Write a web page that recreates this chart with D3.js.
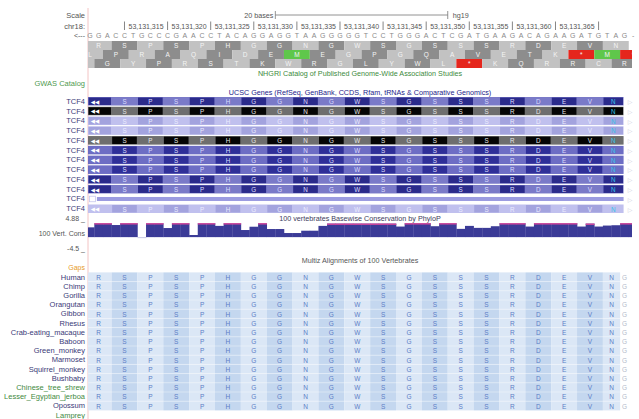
<!DOCTYPE html>
<html>
<head>
<meta charset="utf-8">
<script src="https://cdn.jsdelivr.net/npm/d3@7"></script>
<style>
  body { margin: 0; background: #fff; }
  svg { display: block; font-family: "Liberation Sans", Arial, sans-serif; }
</style>
</head>
<body>
<div id="chart"></div>
<script>
// ---- data ----
const chromName = "chr18";
const assembly = "hg19";
const dna = "GGACCTGCCCGAACCTACAGGAGGTAAGGGGGTCCTGGGACTCGATGAAGACAGAAGATGTAG-";
const rulerPositions = [53131315, 53131320, 53131325, 53131330, 53131335, 53131340,
                        53131345, 53131350, 53131355, 53131360, 53131365];
const firstRulerBase = 4;          // index of the base under the first ruler tick
const scaleBarBases = 20;

// three-frame translation, codon k starts at base 3k + frameStart
const frameA = ["R","S","P","S","P","H","G","G","N","G","W","S","G","S","S","S","R","D","E","V","N"];
const frameB = ["L","P","R","A","Q","I","D","E","M","E","G","P","G","Q","A","V","E","T","K","*","M","*"];
const frameC = ["E","G","Y","P","R","S","T","K","W","R","G","L","Y","W","L","*","K","Q","R","R","C","R"];
const frameStarts = [0, -1, -2];

// UCSC Genes track: 12 TCF4 transcripts
const geneNames = ["TCF4","TCF4","TCF4","TCF4","TCF4","TCF4","TCF4","TCF4","TCF4","TCF4","TCF4","TCF4"];
const geneStatus = ["reviewed","canonical","validated","validated","canonical","provisional",
                    "provisional","provisional","reviewed","reviewed","noncoding","validated"];
const genePhase = [0, 0, 0, 0, 1, 1, 1, 1, 0, 0, 0, 1];
const geneAA = frameA;
const lastCodingBase = 62.4;

// 100 vertebrates basewise conservation (phyloP), one value per base
const phyloP = [2.96, 4.2, 4.2, 3.66, 4.2, 4.2, -0.3, 4.2, 4.2, 2.75,
                4.2, 4.2, 0.64, 4.2, 4.2, 3.4, 4.2, 4.2, 2.15, 3.15,
                4.2, 2.45, 2.45, 1.24, 1.24, 1.94, 1.94, 3.4, 4.1, 4.1,
                4.1, 4.1, 4.1, 4.1, 4.1, 4.1, 3.2, 4.2, 4.2, 4.2,
                3.3, 4.2, 4.2, 2.5, 3.4, 2.8, 2.8, 3.3, 4.2, 4.2,
                4.2, 3.2, 4.2, 4.2, 4.2, 4.2, 4.2, 3.2, 4.1, 3.2,
                3.5, 3.6, 4.2, 4.2];
const consRange = [-4.5, 4.88];

// Multiz alignment species
const species = ["Human","Chimp","Gorilla","Orangutan","Gibbon","Rhesus","Crab-eating_macaque",
                 "Baboon","Green_monkey","Marmoset","Squirrel_monkey","Bushbaby",
                 "Chinese_tree_shrew","Lesser_Egyptian_jerboa","Opossum","Lamprey"];
const speciesClade = ["primate","primate","primate","primate","primate","primate","primate",
                      "primate","primate","primate","primate","primate",
                      "euarchontoglires","euarchontoglires","mammal","vertebrate"];
const speciesAligned = [1,1,1,1,1,1,1,1,1,1,1,1,1,1,1,0];
const trailingBase = "G";

// ---- layout ----
const W = 639, H = 419;
const left = 88, right = 632;

const svg = d3.select("#chart").append("svg")
  .attr("width", W).attr("height", H);

const defs = svg.append("defs");
defs.append("clipPath").attr("id", "data-clip")
  .append("rect").attr("x", left).attr("y", 0).attr("width", right - left).attr("height", H);

const x = d3.scaleLinear().domain([0, dna.length]).range([85.7, 85.7 + dna.length * 8.62]);

const labelX = 85;
const labelColor = "#3a3a6e";

function sideLabel(y, text, color, size) {
  svg.append("text")
    .attr("x", labelX).attr("y", y)
    .attr("text-anchor", "end").attr("dominant-baseline", "central")
    .attr("font-size", size || 7.5).attr("fill", color || labelColor)
    .text(text);
}

function centerTitle(y, text, color, underline) {
  svg.append("text")
    .attr("x", (left + right) / 2).attr("y", y)
    .attr("text-anchor", "middle").attr("dominant-baseline", "central")
    .attr("font-size", 7.2).attr("fill", color)
    .attr("text-decoration", underline ? "underline" : null)
    .text(text);
}

// pink guide line at left edge of the data area
svg.append("line")
  .attr("x1", left).attr("x2", left).attr("y1", 8).attr("y2", H)
  .attr("stroke", "#f3c4c4").attr("stroke-width", 1);

// ---- scale bar ----
sideLabel(15, "Scale", "#555");
const mid = dna.length / 2;
const sb0 = x(mid - scaleBarBases / 2), sb1 = x(mid + scaleBarBases / 2);
const sb = svg.append("g").attr("stroke", "#777").attr("stroke-width", 0.8);
sb.append("line").attr("x1", sb0).attr("x2", sb1).attr("y1", 15).attr("y2", 15);
sb.append("line").attr("x1", sb0).attr("x2", sb0).attr("y1", 11).attr("y2", 19);
sb.append("line").attr("x1", sb1).attr("x2", sb1).attr("y1", 11).attr("y2", 19);
svg.append("text").attr("x", sb0 - 2).attr("y", 15).attr("text-anchor", "end")
  .attr("dominant-baseline", "central").attr("font-size", 7.2).attr("fill", "#555")
  .text(scaleBarBases + " bases");
svg.append("text").attr("x", sb1 + 5).attr("y", 15)
  .attr("dominant-baseline", "central").attr("font-size", 7.2).attr("fill", "#555")
  .text(assembly);

// ---- ruler ----
sideLabel(26, chromName + ":", "#555");
const fmt = d3.format(",");
const ruler = svg.append("g");
const tickBases = rulerPositions.map((p, i) => firstRulerBase + i * 5).concat([firstRulerBase + rulerPositions.length * 5]);
ruler.selectAll("line").data(tickBases).join("line")
  .attr("x1", d => x(d + 0.5)).attr("x2", d => x(d + 0.5))
  .attr("y1", 21.5).attr("y2", 30)
  .attr("stroke", "#666").attr("stroke-width", 0.8);
ruler.selectAll("text").data(rulerPositions).join("text")
  .attr("x", (d, i) => x(firstRulerBase + i * 5 + 3))
  .attr("y", 26).attr("text-anchor", "middle").attr("dominant-baseline", "central")
  .attr("font-size", 7).attr("fill", "#555")
  .text(d => fmt(d));

// ---- bases ----
sideLabel(35, "<---", "#555", 7);
svg.append("g").selectAll("text").data(dna.split("")).join("text")
  .attr("x", (d, i) => x(i + 0.5)).attr("y", 35)
  .attr("text-anchor", "middle").attr("dominant-baseline", "central")
  .attr("font-size", 7).attr("fill", "#8a8a8a")
  .text(d => d);

// ---- three-frame translation ----
const frameY = d3.scaleBand().domain([0, 1, 2]).range([41, 68]);
const frames = [frameA, frameB, frameC];
const frameParity = [0, 1, 1];
const trans = svg.append("g").attr("clip-path", "url(#data-clip)");
frames.forEach((aa, f) => {
  const k0 = f === 0 ? 0 : -1;
  const cells = aa.map((a, i) => ({ a, k: k0 + i, s: 3 * (k0 + i) + frameStarts[f] + (f === 0 ? 0 : 3) }));
  const g = trans.append("g");
  g.selectAll("rect").data(cells).join("rect")
    .attr("x", d => x(d.s)).attr("width", d => x(d.s + 3) - x(d.s))
    .attr("y", frameY(f)).attr("height", frameY.bandwidth())
    .attr("fill", d => d.a === "M" ? "#5fc74b" : d.a === "*" ? "#e5261d"
      : (Math.abs(d.k) % 2 === frameParity[f] ? "#c2c2c2" : "#8d8d8d"));
  g.selectAll("text").data(cells).join("text")
    .attr("x", d => x(d.s + 1.5)).attr("y", frameY(f) + frameY.bandwidth() / 2 + 0.3)
    .attr("text-anchor", "middle").attr("dominant-baseline", "central")
    .attr("font-size", 6.5).attr("fill", "#f4f4f4")
    .text(d => d.a);
});

// ---- GWAS ----
centerTitle(73.5, "NHGRI Catalog of Published Genome-Wide Association Studies", "#3d8a3d");
sideLabel(83, "GWAS Catalog", "#4f9a4f");

// ---- UCSC genes ----
centerTitle(92.5, "UCSC Genes (RefSeq, GenBank, CCDS, Rfam, tRNAs & Comparative Genomics)", "#23238a", true);

const geneColors = {
  reviewed:    { dark: "#2b2b8b", light: "#7a7ac8", text: "#dcdcff" },
  canonical:   { dark: "#050505", light: "#6e6e6e", text: "#e6e6e6" },
  validated:   { dark: "#a3a3de", light: "#c0c0ee", text: "#ececff" },
  provisional: { dark: "#2f2f98", light: "#6d6dc4", text: "#dcdcff" },
  noncoding:   { dark: "#9b9be0", light: "#9b9be0", text: "#ececff" }
};
const geneY = d3.scaleBand().domain(d3.range(geneNames.length)).range([97, 213]).paddingInner(0.13);
const geneEnd = x(lastCodingBase);
const genes = svg.append("g");

geneNames.forEach((name, r) => {
  const c = geneColors[geneStatus[r]];
  const y0 = geneY(r), h = geneY.bandwidth();
  sideLabel(y0 + h / 2, name, "#3a3a78");
  const g = genes.append("g").attr("clip-path", "url(#data-clip)");

  if (geneStatus[r] === "noncoding") {
    g.append("rect").attr("x", x(1.3)).attr("width", geneEnd - x(1.3))
      .attr("y", y0 + h / 2 - 2).attr("height", 4).attr("fill", c.dark);
    g.append("rect").attr("x", left + 1.5).attr("width", 6).attr("y", y0 + 1.5).attr("height", h - 3)
      .attr("fill", "none").attr("stroke", "#c8c8ee").attr("stroke-width", 0.8);
  } else {
    g.append("rect").attr("x", left).attr("width", geneEnd - left)
      .attr("y", y0).attr("height", h).attr("fill", c.light);
    const cells = geneAA.map((a, k) => ({ a, k, s: 3 * k }));
    g.selectAll("rect.codon").data(cells).join("rect").attr("class", "codon")
      .attr("x", d => Math.max(left, x(d.s)) + 0.6)
      .attr("width", d => Math.min(geneEnd, x(d.s + 3)) - Math.max(left, x(d.s)) - 1.2)
      .attr("y", y0 + 0.5).attr("height", h - 1)
      .attr("fill", d => d.k % 2 === genePhase[r] ? c.dark : c.light);
    g.selectAll("text").data(cells).join("text")
      .attr("x", d => d.k === 0 ? left + 7 : (Math.max(left, x(d.s)) + Math.min(geneEnd, x(d.s + 3))) / 2)
      .attr("y", y0 + h / 2 + 0.3)
      .attr("text-anchor", "middle").attr("dominant-baseline", "central")
      .attr("font-size", d => d.k === 0 ? 5.5 : 6.3)
      .attr("font-family", d => d.k === 0 ? "DejaVu Sans" : null)
      .attr("fill", d => d.k === geneAA.length - 1 ? "#35c4e8" : (d.k === 0 ? "#ffffff" : c.text))
      .text(d => d.k === 0 ? "◀◀" : d.a);
  }
  genes.append("text").attr("x", right - 2).attr("y", y0 + h / 2 + 0.3)
    .attr("text-anchor", "middle").attr("dominant-baseline", "central")
    .attr("font-family", "DejaVu Sans").attr("font-size", 6).attr("fill", "#cfcfe0")
    .text("▷");
});

// ---- conservation ----
centerTitle(218, "100 vertebrates Basewise Conservation by PhyloP", "#3c3c5c");
sideLabel(218, "4.88 _", "#555", 7);
sideLabel(233.5, "100 Vert. Cons", "#555", 7);
sideLabel(248.5, "-4.5 _", "#555", 7);
const yc = d3.scaleLinear().domain(consRange).range([252, 221]);
const cons = svg.append("g").attr("clip-path", "url(#data-clip)");
cons.selectAll("rect").data(phyloP).join("rect")
  .attr("x", (d, i) => x(i)).attr("width", (d, i) => x(i + 1) - x(i) + 0.3)
  .attr("y", d => d >= 0 ? yc(d) : yc(0))
  .attr("height", d => Math.max(0.8, Math.abs(yc(d) - yc(0))))
  .attr("fill", d => d >= 0 ? "#3b3b97" : "#c7c7e4");
cons.selectAll("line").data(phyloP.map((v, i) => ({ v, i })).filter(d => d.v >= 4))
  .join("line")
  .attr("x1", d => x(d.i)).attr("x2", d => x(d.i + 1) + 0.3)
  .attr("y1", d => yc(d.v) + 0.6).attr("y2", d => yc(d.v) + 0.6)
  .attr("stroke", "#e2479c").attr("stroke-width", 1.3);

// ---- multiz ----
centerTitle(260, "Multiz Alignments of 100 Vertebrates", "#555");
sideLabel(267, "Gaps", "#e79a2a", 7);
const cladeColor = { primate: "#3a3a78", mammal: "#3a3a78", euarchontoglires: "#3f8a3f", vertebrate: "#3f8a3f" };
const sy = d3.scaleBand().domain(species).range([272.4, 272.4 + species.length * 9.2]);
const multiz = svg.append("g").attr("clip-path", "url(#data-clip)");
const alnEnd = x(62);
const alnCells = frameA.map((a, k) => ({ a, k, x0: x(3 * k), x1: Math.min(alnEnd, x(3 * k + 3)) }));

species.forEach((sp, i) => {
  sideLabel(sy(sp) + sy.bandwidth() / 2, sp, cladeColor[speciesClade[i]]);
  if (!speciesAligned[i]) return;
  const g = multiz.append("g");
  g.selectAll("rect").data(alnCells).join("rect")
    .attr("x", d => d.x0).attr("width", d => d.x1 - d.x0)
    .attr("y", sy(sp)).attr("height", sy.bandwidth())
    .attr("fill", d => d.k % 2 === 0 ? "#dbe7f6" : "#c4d7ef");
  g.selectAll("text").data(alnCells).join("text")
    .attr("x", d => (d.x0 + d.x1) / 2).attr("y", sy(sp) + sy.bandwidth() / 2 + 0.3)
    .attr("text-anchor", "middle").attr("dominant-baseline", "central")
    .attr("font-size", 6.5).attr("fill", "#5d7ec6")
    .text(d => d.a);
  g.append("text").attr("x", x(62.5)).attr("y", sy(sp) + sy.bandwidth() / 2 + 0.3)
    .attr("text-anchor", "middle").attr("dominant-baseline", "central")
    .attr("font-size", 6.5).attr("fill", "#b4bccb")
    .text(trailingBase);
});
// faint row separators
multiz.selectAll("line").data(species.filter((s, i) => speciesAligned[i]).slice(1)).join("line")
  .attr("x1", left).attr("x2", alnEnd)
  .attr("y1", d => sy(d)).attr("y2", d => sy(d))
  .attr("stroke", "#ffffff").attr("stroke-opacity", 0.45).attr("stroke-width", 0.8);
</script>
</body>
</html>
